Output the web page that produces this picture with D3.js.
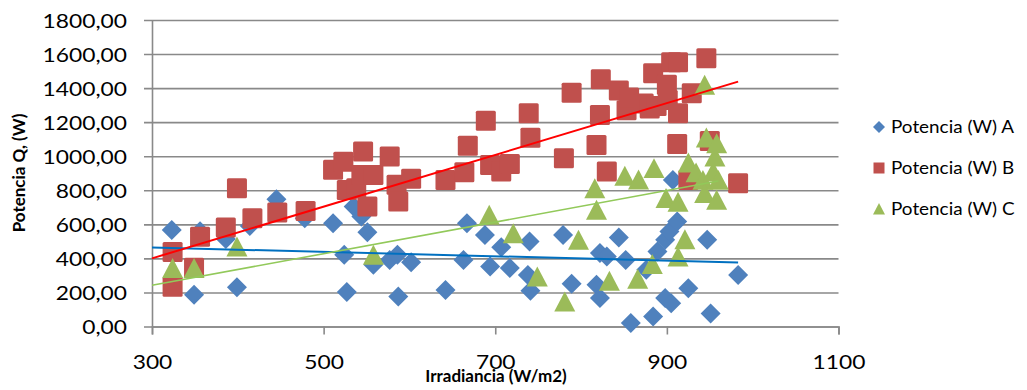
<!DOCTYPE html>
<html>
<head>
<meta charset="utf-8">
<script src="https://cdn.jsdelivr.net/npm/d3@7"></script>
<style>
  body { margin: 0; background: #fff; }
  svg { display: block; }
  text { font-family: Lato, "Open Sans", sans-serif; fill: #000; }
</style>
</head>
<body>
<svg id="chart" width="1027" height="390"></svg>
<script>
// Irradiance (W/m2) and power (W) for each measurement set
const irrA = [323, 349, 356, 386, 399, 414, 445, 478, 511, 524, 527, 535, 544, 551, 558, 577, 586, 587, 602, 642,
              663, 667, 688, 694, 707, 717, 738, 740, 741, 779, 789, 818, 822, 822, 830, 844, 852, 858, 876, 884,
              889, 898, 898, 903, 905, 907, 912, 925, 947, 951, 983];
const potA = [567, 186, 560, 514, 231, 590, 748, 636, 607, 421, 202, 704, 646, 554, 362, 391, 421, 176, 378, 215,
              391, 607, 538, 352, 466, 343, 303, 499, 210, 538, 251, 245, 431, 167, 411, 522, 391, 20, 333, 59,
              440, 509, 167, 558, 137, 861, 616, 225, 509, 77, 302];

const irrB = [324, 324, 349, 356, 386, 399, 417, 446, 479, 511, 523, 527, 538, 544, 546, 551, 558, 577, 585, 587,
              602, 642, 664, 668, 689, 694, 707, 717, 739, 741, 780, 789, 818, 822, 823, 830, 844, 853, 856, 873,
              880, 884, 888, 900, 901, 905, 912, 913, 913, 925, 929, 946, 950, 983];
const potB = [437, 233, 345, 527, 581, 812, 636, 669, 678, 920, 968, 802, 812, 890, 1027, 704, 890, 998, 832, 734,
              867, 861, 906, 1062, 1209, 949, 910, 955, 1252, 1109, 988, 1373, 1066, 1242, 1452, 910, 1386, 1270, 1345, 1310,
              1280, 1487, 1295, 1420, 1330, 1552, 1072, 1552, 1252, 860, 1370, 1575, 1090, 842];

const irrC = [324, 349, 399, 558, 693, 721, 749, 781, 797, 816, 818, 833, 851, 866, 867, 883, 885, 899, 913, 913,
              921, 925, 934, 942, 944, 944, 946, 954, 956, 958, 958, 960];
const potC = [343, 343, 470, 421, 656, 548, 293, 147, 509, 812, 685, 268, 885, 280, 863, 367, 930, 754, 732, 411,
              512, 963, 905, 861, 1420, 783, 1110, 910, 998, 1076, 744, 861];

// linear trend lines: [irradiance, power] at each end
const trendA = [[300, 464], [983, 376]];
const trendB = [[300, 400], [983, 1438]];
const trendC = [[300, 242], [960, 854]];

const seriesNames = ["Potencia (W) A", "Potencia (W) B", "Potencia (W) C"];
const yTicks = [0, 200, 400, 600, 800, 1000, 1200, 1400, 1600, 1800];
const xTicks = [300, 500, 700, 900, 1100];
const xTitle = "Irradiancia (W/m2)";
const yTitle = "Potencia Q, (W)";

const svg = d3.select("#chart");
const plotLeft = 152, plotRight = 838.5, plotTop = 20, plotBottom = 326.5;
const x = d3.scaleLinear().domain([300, 1100]).range([plotLeft, plotRight]);
const y = d3.scaleLinear().domain([0, 1800]).range([plotBottom, plotTop]);
const gridColor = "#898989";
const STRETCH = 1.14;

function stretchText(sel, k) {
  sel.each(function () {
    const t = d3.select(this);
    const tx = +t.attr("x") || 0;
    t.attr("x", tx / k).attr("transform", `scale(${k},1)`);
  });
}

// horizontal gridlines, reaching out past the axis as tick marks
svg.append("g")
  .attr("transform", `translate(${plotRight},0)`)
  .call(d3.axisLeft(y).tickValues(yTicks).tickSize(plotRight - plotLeft + 8).tickFormat(""))
  .call(g => g.select(".domain").remove())
  .call(g => g.selectAll("line").attr("stroke", gridColor).attr("stroke-width", 1.6));

// y axis with comma-decimal labels
const yAxis = svg.append("g")
  .attr("transform", `translate(${plotLeft},0)`)
  .call(d3.axisLeft(y).tickValues(yTicks).tickSize(0).tickPadding(25)
    .tickFormat(d => d3.format(".2f")(d).replace(".", ",")));
yAxis.select(".domain").attr("stroke", gridColor).attr("stroke-width", 1.6);
yAxis.selectAll("text").style("font-size", "20px").attr("dy", "0.36em");
stretchText(yAxis.selectAll("text"), STRETCH);

// x axis
const xAxis = svg.append("g")
  .attr("transform", `translate(0,${plotBottom})`)
  .call(d3.axisBottom(x).tickValues(xTicks).tickSize(8).tickPadding(20).tickFormat(d3.format("d")));
xAxis.select(".domain").attr("stroke", gridColor).attr("stroke-width", 1.6);
xAxis.selectAll("line").attr("stroke", gridColor).attr("stroke-width", 1.6);
xAxis.selectAll("text").style("font-size", "20px");
stretchText(xAxis.selectAll("text"), STRETCH);

// markers
const colors = ["#4F81BD", "#C0504D", "#9BBB59"];
const trendColors = ["#0070C0", "#FF0000", "#92C95A"];
const trendWidths = [2, 2, 1.6];
const sets = [
  { xs: irrA, ys: potA, trend: trendA },
  { xs: irrB, ys: potB, trend: trendB },
  { xs: irrC, ys: potC, trend: trendC }
];

function markerPath(kind, s) {
  if (kind === 0) return `M0,${-s}L${s},0L0,${s}L${-s},0Z`;
  if (kind === 2) return `M0,${-s}L${s},${s * 0.9}L${-s},${s * 0.9}Z`;
  return null;
}

sets.forEach((set, i) => {
  const pts = set.xs.map((v, j) => [v, set.ys[j]]);
  const g = svg.append("g");
  if (i === 1) {
    g.selectAll("rect").data(pts).join("rect")
      .attr("x", d => x(d[0]) - 10).attr("y", d => y(d[1]) - 10)
      .attr("width", 20).attr("height", 20).attr("rx", 1.5)
      .attr("fill", colors[i]);
  } else {
    g.selectAll("path").data(pts).join("path")
      .attr("transform", d => `translate(${x(d[0])},${y(d[1]) + (i === 2 ? 0.5 : 0)})`)
      .attr("d", markerPath(i, i === 0 ? 10 : 10.5))
      .attr("fill", colors[i]);
  }
});

// trend lines
const trendLine = d3.line().x(d => x(d[0])).y(d => y(d[1]));
sets.forEach((set, i) => {
  svg.append("path")
    .attr("d", trendLine(set.trend))
    .attr("fill", "none")
    .attr("stroke", trendColors[i]).attr("stroke-width", trendWidths[i]);
});

// axis titles
svg.append("text")
  .attr("x", 496).attr("y", 382)
  .attr("text-anchor", "middle")
  .style("font-size", "17px").style("font-weight", "bold")
  .text(xTitle);

svg.append("text")
  .attr("transform", "translate(25,173) rotate(-90)")
  .attr("text-anchor", "middle")
  .style("font-size", "17px").style("font-weight", "bold")
  .text(yTitle);

// legend
const legend = svg.append("g").attr("transform", "translate(879,127)");
seriesNames.forEach((name, i) => {
  const row = legend.append("g").attr("transform", `translate(0,${i * 41})`);
  if (i === 1) {
    row.append("rect").attr("x", -5.5).attr("y", -5.5).attr("width", 11).attr("height", 11).attr("fill", colors[i]);
  } else {
    row.append("path").attr("d", markerPath(i, 6)).attr("fill", colors[i]);
  }
  const t = row.append("text").attr("x", 12).attr("dy", "0.36em")
    .style("font-size", "17.5px").text(name);
  stretchText(t, 1.08);
});
</script>
</body>
</html>
